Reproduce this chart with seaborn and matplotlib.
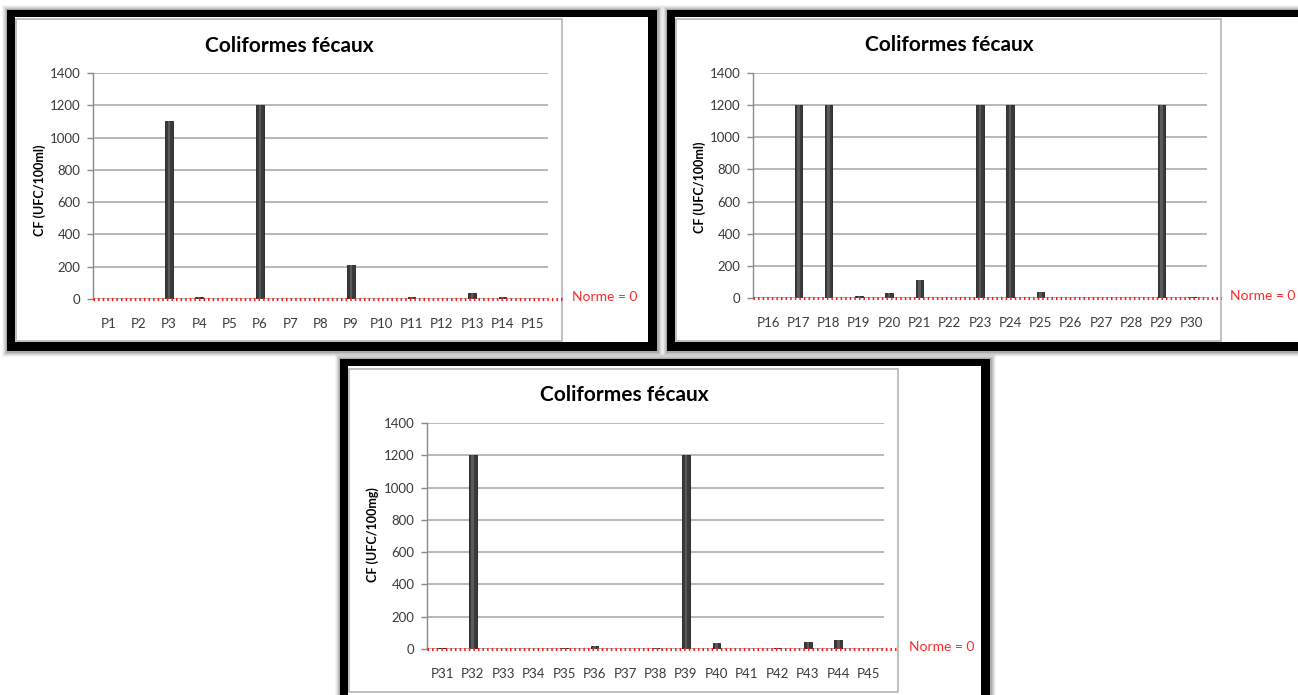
import matplotlib
matplotlib.use("Agg")
import matplotlib.pyplot as plt
from matplotlib.patches import Rectangle
import seaborn as sns

sns.set_theme(style="white")
plt.rcParams["font.family"] = ["Lato", "DejaVu Sans"]

# Fecal coliform counts per sampling point
points_a = ["P1", "P2", "P3", "P4", "P5", "P6", "P7", "P8", "P9", "P10",
            "P11", "P12", "P13", "P14", "P15"]
cf_a = [0, 0, 1100, 10, 0, 1200, 0, 3, 210, 0, 10, 0, 40, 10, 3]

points_b = ["P16", "P17", "P18", "P19", "P20", "P21", "P22", "P23", "P24",
            "P25", "P26", "P27", "P28", "P29", "P30"]
cf_b = [0, 1200, 1200, 15, 30, 110, 0, 1200, 1200, 35, 0, 0, 0, 1200, 4]

points_c = ["P31", "P32", "P33", "P34", "P35", "P36", "P37", "P38", "P39",
            "P40", "P41", "P42", "P43", "P44", "P45"]
cf_c = [4, 1200, 0, 0, 4, 20, 0, 4, 1200, 40, 0, 5, 45, 55, 0]

yticks = [0, 200, 400, 600, 800, 1000, 1200, 1400]
title = "Coliformes fécaux"
norm_label = "Norme = 0"

W, H = 1298, 695
fig = plt.figure(figsize=(W / 100, H / 100), dpi=100, facecolor="white")


def rect_fig(x0, y0, x1, y1):
    """Pixel box (top-left origin) -> figure-fraction rectangle."""
    return [x0 / W, 1 - y1 / H, (x1 - x0) / W, (y1 - y0) / H]


def add_box(x0, y0, x1, y1, **kw):
    l, b, w, h = rect_fig(x0, y0, x1, y1)
    fig.add_artist(Rectangle((l, b), w, h, transform=fig.transFigure, **kw))


def panel(frame, chart, plot, labels, values, ylabel, ylab_pos, title_pos, norm_pos):
    fx0, fy0, fx1, fy1 = frame
    # soft drop shadow around the black frame
    for k, a in [(5, 0.04), (4, 0.05), (3, 0.07), (2, 0.09), (1, 0.12)]:
        add_box(fx0 - k, fy0 - k, fx1 + k + 1, fy1 + k + 1,
                facecolor="black", edgecolor="none", alpha=a, zorder=0)
    add_box(fx0, fy0, fx1, fy1, facecolor="black", edgecolor="none", zorder=1)
    add_box(fx0 + 8, fy0 + 7, fx1 - 9, fy1 - 9, facecolor="white",
            edgecolor="none", zorder=2)
    cx0, cy0, cx1, cy1 = chart
    add_box(cx0, cy0, cx1, cy1, facecolor="white", edgecolor="#b5b5b5",
            lw=1.2, zorder=3)

    px0, py_top, px1, py0 = plot
    ax = fig.add_axes(rect_fig(px0, py_top, px1, py0))
    ax.set_zorder(5)
    ax.patch.set_alpha(0)
    sns.barplot(x=labels, y=values, color="#3a3a3a", width=0.25,
                saturation=1, edgecolor="#1e1e1e", linewidth=0.6, ax=ax)
    # light sheen down the middle of each bar
    sns.barplot(x=labels, y=values, color="#5a5a5a", width=0.08,
                saturation=1, linewidth=0, ax=ax)
    ax.set_ylim(0, 1400)
    ax.set_xlim(-0.5, len(labels) - 0.5)
    ax.set_yticks(yticks)
    ax.set_axisbelow(True)
    ax.yaxis.grid(True, color="#b8b8b8", lw=1.4)
    ax.xaxis.grid(False)
    for s in ["top", "right", "bottom"]:
        ax.spines[s].set_visible(False)
    ax.spines["left"].set_color("#8a8a8a")
    ax.spines["left"].set_linewidth(1.0)
    ax.tick_params(axis="y", left=True, length=4, width=1, color="#8a8a8a",
                   pad=5, labelsize=9.5, labelcolor="#3a3a3a")
    ax.tick_params(axis="x", bottom=False, pad=8, labelsize=9.5,
                   labelcolor="#3a3a3a")
    ax.set_xlabel("")
    ax.set_ylabel("")

    # threshold line (norm = 0), running out to the chart box edge
    unit = (px1 - px0) / len(labels)
    x_end = len(labels) - 0.5 + (cx1 - px1) / unit
    ax.plot([-0.5, x_end], [0, 0], color="#ff1a1a", lw=2.2,
            ls=(0, (0.5, 1.0)), clip_on=False, zorder=6)

    fig.text(ylab_pos[0] / W, 1 - ylab_pos[1] / H, ylabel, rotation=90,
             ha="center", va="center", fontsize=9, fontweight="bold",
             color="black", zorder=7)
    fig.text(title_pos[0] / W, 1 - title_pos[1] / H, title, ha="center",
             va="center", fontsize=15, fontweight="bold", color="black",
             zorder=7)
    fig.text(norm_pos[0] / W, 1 - norm_pos[1] / H, norm_label, ha="center",
             va="center", fontsize=10, color="#ff2a2a", zorder=7)
    return ax


panel((7, 10, 657, 351), (16, 19, 562, 341), (93, 73, 548, 299),
      points_a, cf_a, "CF (UFC/100ml)", (40, 190), (289, 46), (605, 297))
panel((667, 10, 1310, 351), (676, 19, 1221, 341), (753, 73, 1207, 298),
      points_b, cf_b, "CF (UFC/100ml)", (700, 187), (949, 45), (1263, 296))
panel((340, 359, 990, 705), (349, 369, 898, 692), (427, 423, 884, 649),
      points_c, cf_c, "CF (UFC/100mg)", (373, 535), (624, 395), (942, 647))

fig.savefig("out.png", dpi=100, facecolor="white")
